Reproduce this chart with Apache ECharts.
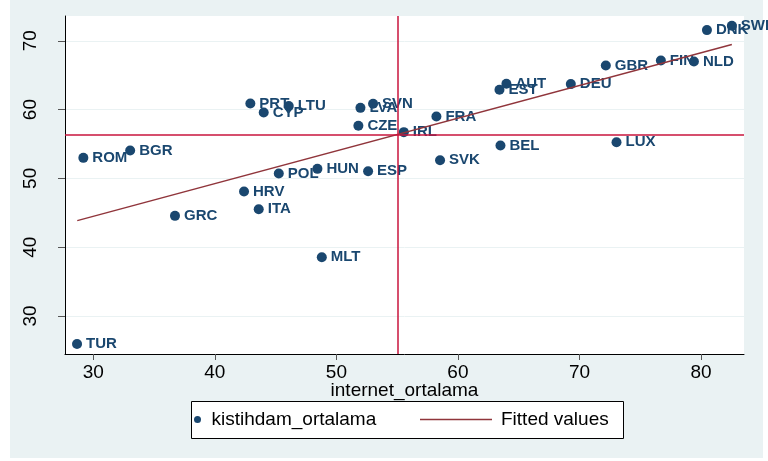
<!DOCTYPE html>
<html>
<head>
<meta charset="utf-8">
<script src="https://cdn.jsdelivr.net/npm/echarts@6/dist/echarts.min.js"></script>
<style>
  html, body { margin: 0; padding: 0; background: #ffffff; }
  #bg { position: absolute; left: 10px; top: 0px; width: 753px; height: 458px; background: #eaf2f3; }
  #chart { position: absolute; left: 0; top: 0; width: 768px; height: 461px; }
</style>
</head>
<body>
<div id="bg"></div>
<div id="chart"></div>
<script>
// ---- data ----
const countries = ['TUR','ROM','BGR','GRC','HRV','ITA','PRT','CYP','LTU','POL','HUN','MLT','ESP','CZE','LVA','SVN','IRL','FRA','SVK','BEL','EST','AUT','DEU','GBR','LUX','FIN','NLD','DNK','SWE'];
const internet = [28.66,29.18,33.03,36.72,42.40,43.61,42.92,44.02,46.08,45.26,48.44,48.80,52.61,51.81,51.98,53.02,55.55,58.23,58.53,63.50,63.42,63.99,69.29,72.17,73.05,76.70,79.42,80.49,82.54];
const employment = [25.93,52.98,54.05,44.55,48.08,45.52,60.88,59.57,60.50,50.70,51.38,38.53,51.04,57.64,60.25,60.84,56.72,58.99,52.64,54.77,62.87,63.75,63.70,66.41,55.26,67.14,66.99,71.55,72.18];
const fittedX = [28.68, 82.54];
const fittedY = [43.86, 69.46];
const meanInternet = 55.02;
const meanEmployment = 56.37;
const xTicks = [30, 40, 50, 60, 70, 80];
const yTicks = [30, 40, 50, 60, 70];

const scatterData = countries.map((c, i) => ({ name: c, value: [internet[i], employment[i]] }));
const fitData = fittedX.map((x, i) => [x, fittedY[i]]);

const chart = echarts.init(document.getElementById('chart'), null, { renderer: 'canvas' });
const FONT = '"Liberation Sans", Arial, Helvetica, sans-serif';
const tickFmt = v => (Math.abs(v % 10) < 1e-6 ? String(v) : '');

chart.setOption({
  backgroundColor: 'transparent',
  animation: false,
  textStyle: { fontFamily: FONT },
  grid: {
    left: 65, top: 16, right: 24, bottom: 107,
    containLabel: false, outerBoundsMode: 'none',
    show: true, backgroundColor: '#ffffff', borderWidth: 0
  },
  xAxis: {
    type: 'value', min: 27.67, max: 83.54,
    name: 'internet_ortalama', nameLocation: 'middle', nameGap: 27,
    nameMoveOverlap: false,
    nameTextStyle: { color: '#000', fontSize: 19, fontFamily: FONT },
    axisLine: { show: true, onZero: false, lineStyle: { color: '#000', width: 1 } },
    axisTick: { show: true, length: 6, customValues: xTicks, lineStyle: { color: '#555', width: 1 } },
    axisLabel: { show: true, customValues: xTicks, formatter: tickFmt, color: '#000', fontSize: 19, margin: 9, fontFamily: FONT },
    splitLine: { show: false }
  },
  yAxis: {
    type: 'value', min: 24.47, max: 73.6,
    axisLine: { show: true, onZero: false, lineStyle: { color: '#000', width: 1 } },
    axisTick: { show: true, length: 7, customValues: yTicks, lineStyle: { color: '#555', width: 1 } },
    axisLabel: { show: true, customValues: yTicks, formatter: tickFmt, rotate: 90, color: '#000', fontSize: 19, margin: 25, fontFamily: FONT },
    splitLine: { show: true, lineStyle: { color: '#eaf2f3', width: 1 } }
  },
  legend: [
    {
      data: ['kistihdam_ortalama'], left: 194, top: 410, orient: 'horizontal',
      itemWidth: 18, itemHeight: 7, padding: 0,
      textStyle: { color: '#000', fontSize: 19, fontFamily: FONT },
      icon: 'circle', selectedMode: false
    },
    {
      data: ['Fitted values'], left: 420, top: 410, orient: 'horizontal',
      itemWidth: 72, itemHeight: 1.5, padding: 0,
      icon: 'rect',
      itemStyle: { color: '#90353b', borderWidth: 0 },
      textStyle: { color: '#000', fontSize: 19, fontFamily: FONT, padding: [0, 0, 0, 4] },
      selectedMode: false
    }
  ],
  graphic: [
    {
      type: 'rect', left: 191, top: 401, z: -1,
      shape: { width: 432, height: 37 },
      style: { fill: '#ffffff', stroke: '#000000', lineWidth: 1 },
      silent: true
    }
  ],
  series: [
    {
      name: 'kistihdam_ortalama',
      type: 'scatter',
      symbol: 'circle', symbolSize: 10,
      itemStyle: { color: '#1a476f', opacity: 1 },
      data: scatterData,
      label: {
        show: true, position: 'right', distance: 4,
        formatter: p => p.name,
        color: '#1a476f', fontSize: 15, fontWeight: 'bold', fontFamily: FONT
      },
      labelLayout: { hideOverlap: false },
      z: 3
    },
    {
      name: 'Fitted values',
      type: 'line',
      data: fitData,
      showSymbol: false, symbol: 'none',
      lineStyle: { color: '#90353b', width: 1.5 },
      itemStyle: { color: '#90353b' },
      z: 4,
      markLine: {
        silent: true, symbol: ['none', 'none'],
        label: { show: false },
        lineStyle: { color: '#c8143c', width: 1.5, type: 'solid' },
        data: [ { xAxis: meanInternet }, { yAxis: meanEmployment } ]
      }
    }
  ]
});
</script>
</body>
</html>
